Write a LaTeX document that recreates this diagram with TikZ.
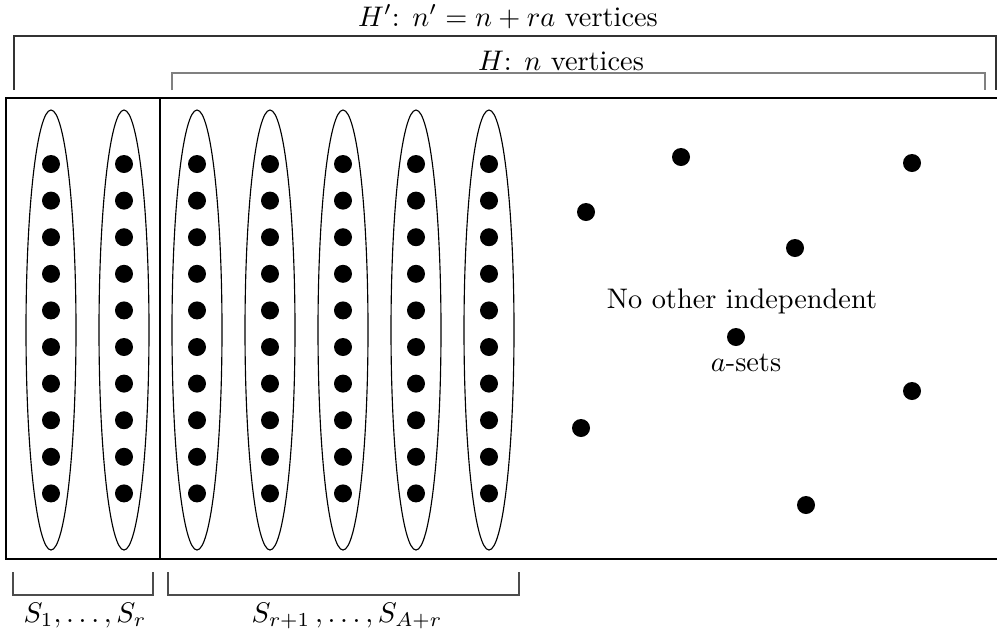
\documentclass[tikz,border=0pt]{standalone}
\usepackage{amsmath}
\usepackage{amssymb}

\begin{document}
\begin{tikzpicture}[x=0.0124cm,y=-0.0124cm]
  \useasboundingbox (0,0) rectangle (997,635);
  % frame of H'
  \draw[thick] (997,98) -- (6,98) -- (6,559) -- (997,559);
  \draw[thick] (160,98) -- (160,559);
  % the sets S_i
  \foreach \x in {51,124,...,489} {
    \draw (\x,330) ellipse (25 and 220);
    \foreach \y in {0,...,9}
      \fill (\x,164+36.6*\y) circle (9);
  }
  % remaining vertices
  \foreach \x/\y in {586/212,681/157,912/163,795/248,736/337,912/391,581/428,806/505}
    \fill (\x,\y) circle (9);
  % brackets
  \draw[black!80] (14,90) -- (14,36) -- (996,36) -- (996,90);
  \draw[gray,line width=0.5pt] (172,90) -- (172,73) -- (985,73) -- (985,90);
  \draw[black!70] (13,572) -- (13,595) -- (153,595) -- (153,572);
  \draw[black!70] (168,572) -- (168,595) -- (519,595) -- (519,572);
  % labels
  \node[anchor=base] (hbig) at (508,26) {$H'$: $n'=n+ra$ vertices};
  \node[anchor=base] (hsmall) at (561,70) {$H$: $n$ vertices};
  \node[anchor=base] (sfirst) at (85,622) {$S_1,\ldots,S_r$};
  \node[anchor=base] (srest) at (347,622) {$S_{r+1}\,,\ldots,S_{A+r}$};
  \node[anchor=base] (other) at (742,308) {No other independent};
  \node[anchor=base] (asets) at (746,371) {$a$-sets};
\end{tikzpicture}
\end{document}
